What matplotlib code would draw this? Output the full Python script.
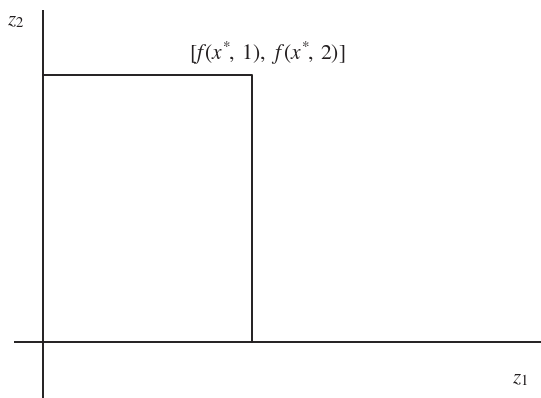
import matplotlib
matplotlib.use("Agg")
import matplotlib.pyplot as plt

plt.rcParams['mathtext.fontset'] = 'stix'
plt.rcParams['font.family'] = ['Liberation Serif', 'DejaVu Serif']

# point [f(x*,1), f(x*,2)] in the objective plane
f1 = 2.09
f2 = 2.67
corner_label = r'$[f\,(x^{*}\!,\;1),\;\,f\,(x^{*}\!,\;2)]$'

# extent of the drawn axes
z1_range = [-0.29, 4.98]
z2_range = [-0.56, 3.32]

ink = '#231f20'

fig = plt.figure(figsize=(5.41, 3.98), dpi=100)
ax = fig.add_axes([0, 0, 1, 1])
ax.set_xlim(-0.43, 4.98)
ax.set_ylim(-0.56, 3.42)
ax.axis('off')

ax.plot(z1_range, [0, 0], color=ink, lw=1.4, solid_capstyle='butt')
ax.plot([0, 0], z2_range, color=ink, lw=1.4, solid_capstyle='butt')
ax.plot([0, f1, f1], [f2, f2, 0], color=ink, lw=1.4)

ax.text(f1 + 0.15, f2 + 0.22, corner_label, fontsize=15.5, ha='center', va='center', color=ink)
ax.text(-0.27, 3.21, r'$z_2$', fontsize=15, ha='center', va='center', color=ink)
ax.text(4.77, -0.37, r'$z_1$', fontsize=15, ha='center', va='center', color=ink)

fig.savefig('out.png', dpi=100)
